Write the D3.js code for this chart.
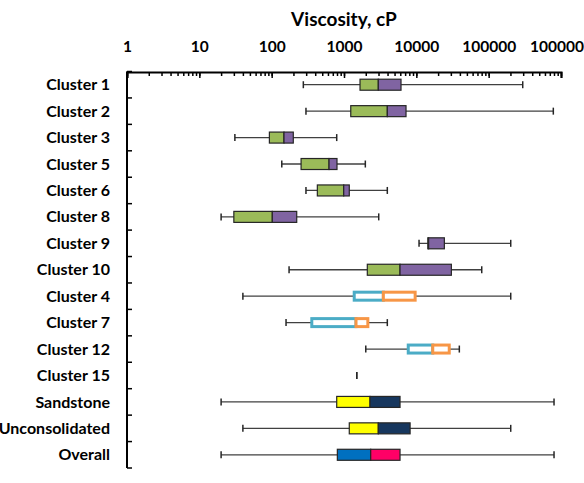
<!DOCTYPE html>
<html>
<head>
<meta charset="utf-8">
<script src="https://cdn.jsdelivr.net/npm/d3@7/dist/d3.min.js"></script>
<style>
	body { margin: 0; background: #fff; }
	text { font-family: Lato, 'Open Sans', sans-serif; font-weight: bold; fill: #000; }
</style>
</head>
<body>
<svg id="chart"></svg>
<script>
var categories = ['Cluster 1', 'Cluster 2', 'Cluster 3', 'Cluster 5', 'Cluster 6', 'Cluster 8', 'Cluster 9',
	'Cluster 10', 'Cluster 4', 'Cluster 7', 'Cluster 12', 'Cluster 15', 'Sandstone', 'Unconsolidated', 'Overall'];
var whiskerLow  = [274, 298, 31, 138, 298, 20, 10900, 174, 40, 158, 2000, 1500, 20, 40, 20];
var q1          = [1665, 1240, 93, 255, 428, 30, 14400, 2100, 1320, 342, 7370, 1500, 793, 1183, 809];
var median      = [2980, 3970, 148, 621, 991, 102, 14800, 5950, 3500, 1466, 16860, 1500, 2290, 2980, 2340];
var q3          = [6140, 7200, 199, 800, 1183, 222, 24400, 30500, 10100, 2240, 29900, 1500, 5950, 8200, 5950];
var whiskerHigh = [295700, 783000, 793, 1972, 3970, 3020, 201800, 80200, 201800, 3970, 39300, 1500, 801000, 201800, 801000];
var tickValues = [1, 10, 100, 1000, 10000, 100000, 1000000];

// colour scheme per group of rows
var palettes = {
	green:  { lo: '#9bbb59', hi: '#8064a2', loStroke: '#262626', hiStroke: '#262626', sw: 1.2 },
	hollow: { lo: '#ffffff', hi: '#ffffff', loStroke: '#4bacc6', hiStroke: '#f79646', sw: 3 },
	yellow: { lo: '#ffff00', hi: '#17375e', loStroke: '#262626', hiStroke: '#262626', sw: 1.2 },
	overall:{ lo: '#0070c0', hi: '#ff0066', loStroke: '#262626', hiStroke: '#262626', sw: 1.2 }
};
function paletteFor(name) {
	if (['Cluster 4', 'Cluster 7', 'Cluster 12', 'Cluster 15'].indexOf(name) >= 0) return palettes.hollow;
	if (name === 'Sandstone' || name === 'Unconsolidated') return palettes.yellow;
	if (name === 'Overall') return palettes.overall;
	return palettes.green;
}

var width = 584, height = 483;
var svg = d3.select('#chart').attr('width', width).attr('height', height);

var x = d3.scaleLog().domain([1, 1000000]).range([127, 561]);
var y = d3.scaleBand().domain(categories).range([71.5, 468]);

var rows = categories.map(function(c, i) {
	return { name: c, lo: whiskerLow[i], q1: q1[i], med: median[i], q3: q3[i], hi: whiskerHigh[i] };
});

// title
svg.append('text')
	.attr('x', 344).attr('y', 26)
	.attr('text-anchor', 'middle')
	.style('font-size', '19px')
	.text('Viscosity, cP');

// x axis on top, ticks pointing into the plot
var minor = svg.append('g')
	.attr('transform', 'translate(0,72)')
	.call(d3.axisTop(x).tickValues(x.ticks()).tickSize(-4).tickSizeOuter(0).tickFormat(''));
minor.select('.domain').remove();
minor.selectAll('line').attr('stroke', '#000').attr('stroke-width', 1.5);

var xAxis = svg.append('g')
	.attr('transform', 'translate(0,72)')
	.call(d3.axisTop(x).tickValues(tickValues).tickSizeInner(-6).tickSizeOuter(-6).tickPadding(20).tickFormat(d3.format('d')));
xAxis.select('.domain').attr('stroke', '#000').attr('stroke-width', 2);
xAxis.selectAll('line').attr('stroke', '#000').attr('stroke-width', 1.5);
xAxis.selectAll('text').style('font-size', '15.5px').attr('fill', '#000');

// y axis
var bounds = categories.map(function(c) { return y(c); }).concat([y.range()[1]]);
var yAxis = svg.append('g');
yAxis.append('line')
	.attr('x1', 127).attr('x2', 127)
	.attr('y1', y.range()[0]).attr('y2', y.range()[1])
	.attr('stroke', '#000').attr('stroke-width', 2);
yAxis.selectAll('.ytick').data(bounds).enter().append('line')
	.attr('x1', 127).attr('x2', 132)
	.attr('y1', function(d) { return d; }).attr('y2', function(d) { return d; })
	.attr('stroke', '#000').attr('stroke-width', 1.5);
yAxis.selectAll('.ylab').data(categories).enter().append('text')
	.attr('x', 110)
	.attr('y', function(d) { return y(d) + y.bandwidth() / 2; })
	.attr('dy', '0.35em')
	.attr('text-anchor', 'end')
	.style('font-size', '16px')
	.text(function(d) { return d; });

// box plots
var boxH = 11, capH = 7;
var g = svg.selectAll('.row').data(rows).enter().append('g')
	.attr('transform', function(d) { return 'translate(0,' + (y(d.name) + y.bandwidth() / 2) + ')'; });

g.append('line')
	.attr('x1', function(d) { return x(d.lo); })
	.attr('x2', function(d) { return x(d.hi); })
	.attr('stroke', '#404040').attr('stroke-width', 1.3);

g.selectAll('.cap').data(function(d) { return [d.lo, d.hi]; }).enter().append('line')
	.attr('x1', function(v) { return x(v); }).attr('x2', function(v) { return x(v); })
	.attr('y1', -capH / 2).attr('y2', capH / 2)
	.attr('stroke', '#262626').attr('stroke-width', 1.5);

g.filter(function(d) { return d.q3 > d.q1; }).each(function(d) {
	var p = paletteFor(d.name);
	var sel = d3.select(this);
	var inset = p.sw > 2 ? p.sw / 2 : 0;
	sel.append('rect')
		.attr('x', x(d.q1) + inset)
		.attr('y', -boxH / 2 + inset)
		.attr('width', Math.max(0, x(d.med) - x(d.q1) - inset))
		.attr('height', boxH - 2 * inset)
		.attr('fill', p.lo).attr('stroke', p.loStroke).attr('stroke-width', p.sw);
	sel.append('rect')
		.attr('x', x(d.med))
		.attr('y', -boxH / 2 + inset)
		.attr('width', Math.max(0, x(d.q3) - x(d.med) - inset))
		.attr('height', boxH - 2 * inset)
		.attr('fill', p.hi).attr('stroke', p.hiStroke).attr('stroke-width', p.sw);
});
</script>
</body>
</html>
